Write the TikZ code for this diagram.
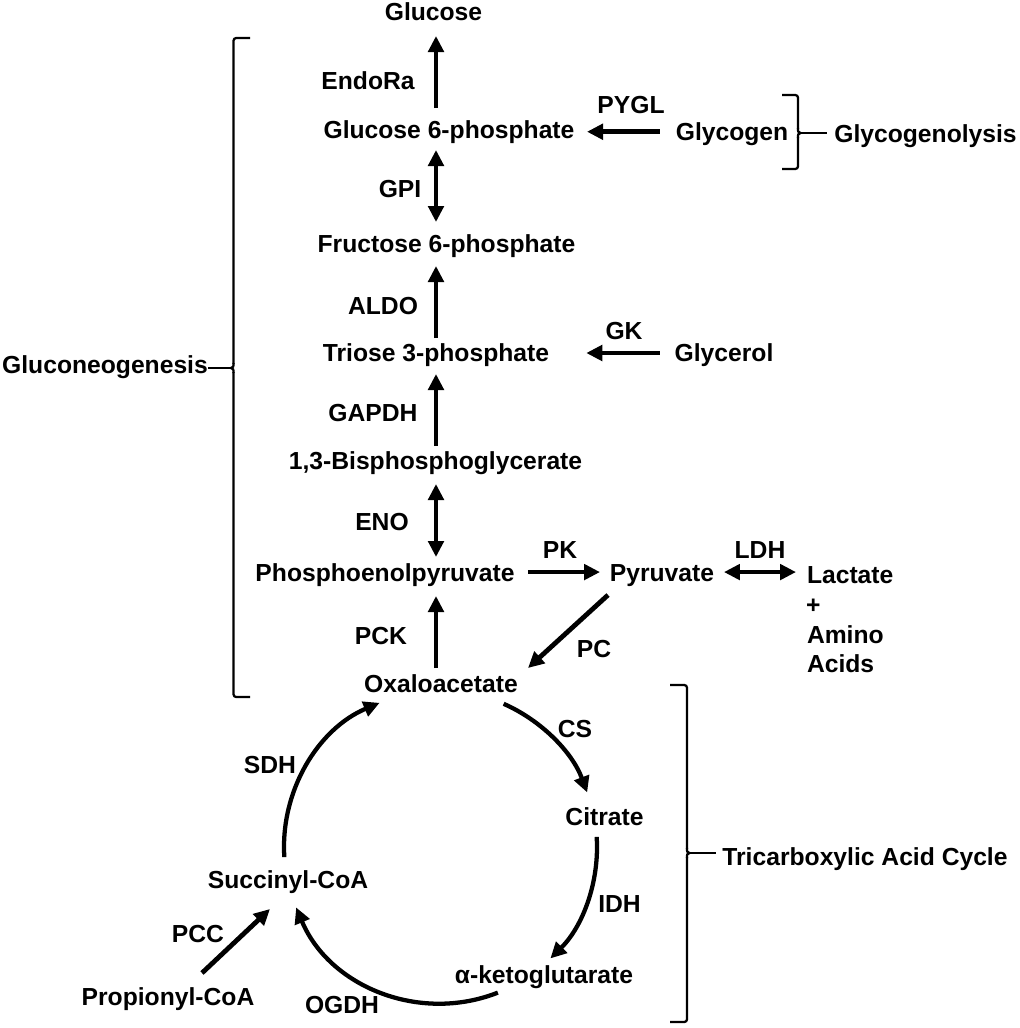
\documentclass[tikz,border=0pt]{standalone}
\usepackage{fontspec}
\setmainfont{Liberation Sans}
\usetikzlibrary{arrows.meta,calc}
\begin{document}
\begin{tikzpicture}[x=0.75pt,y=-0.75pt,
  lbl/.style={font=\fontsize{18.5}{22}\selectfont\bfseries, inner sep=0pt, outer sep=0pt,
    text height=13.3pt, text depth=3.9pt, anchor=base},
  lblw/.style={lbl, anchor=base west},
  arr/.style={line width=3.6pt, -{Triangle[length=12pt,width=11.5pt]}},
  darr/.style={line width=3.6pt, {Triangle[length=12pt,width=11.5pt]}-{Triangle[length=12pt,width=11.5pt]}},
  carr/.style={line width=3.2pt, -{Triangle[length=12pt,width=11.5pt]}},
  brace/.style={line width=1.7pt},
  tick/.style={line width=1.7pt}]
\useasboundingbox (0,0) rectangle (1020,1028);
\fill[white] (0,0) rectangle (1020,1028);

% metabolites
\node[lbl] (glucose) at (433.5,20) {Glucose};
\node[lbl] (g6p) at (449,138) {Glucose 6-phosphate};
\node[lbl] (glycogen) at (732,140) {Glycogen};
\node[lbl] (f6p) at (446.5,252) {Fructose 6-phosphate};
\node[lbl] (triose) at (436,361) {Triose 3-phosphate};
\node[lbl] (glycerol) at (724,361) {Glycerol};
\node[lbl] (bpg) at (435.5,469) {1,3-Bisphosphoglycerate};
\node[lbl] (pep) at (385,581) {Phosphoenolpyruvate};
\node[lbl] (pyruvate) at (662,581) {Pyruvate};
\node[lblw] (lactate) at (807,583) {Lactate};
\node[lblw] (plus) at (806,613) {+};
\node[lblw] (amino) at (807,643) {Amino};
\node[lblw] (acids) at (807,672) {Acids};
\node[lbl] (oaa) at (441,692) {Oxaloacetate};
\node[lbl] (citrate) at (604.5,825) {Citrate};
\node[lbl] (succinyl) at (288,888) {Succinyl-CoA};
\node[lbl] (akg) at (544,983) {α-ketoglutarate};
\node[lbl] (propionyl) at (168,1005) {Propionyl-CoA};

% enzymes
\node[lbl] (endora) at (368,89) {EndoRa};
\node[lbl] (pygl) at (631,113) {PYGL};
\node[lbl] (gpi) at (400,197) {GPI};
\node[lbl] (aldo) at (383,314) {ALDO};
\node[lbl] (gk) at (624,339) {GK};
\node[lbl] (gapdh) at (373,421) {GAPDH};
\node[lbl] (eno) at (382,530) {ENO};
\node[lbl] (pk) at (560,558) {PK};
\node[lbl] (ldh) at (760,558) {LDH};
\node[lbl] (pck) at (381,644) {PCK};
\node[lbl] (pc) at (594,657) {PC};
\node[lbl] (cs) at (575,737) {CS};
\node[lbl] (sdh) at (270,773) {SDH};
\node[lbl] (idh) at (619.5,912) {IDH};
\node[lbl] (pcc) at (198,942) {PCC};
\node[lbl] (ogdh) at (342,1013) {OGDH};

% process labels
\node[lbl] (gluconeo) at (105,373) {Gluconeogenesis};
\node[lbl] (glycogenolysis) at (925.5,142) {Glycogenolysis};
\node[lbl] (tcalbl) at (865,865) {Tricarboxylic Acid Cycle};

% main spine
\coordinate (spine) at (436,0);
\draw[arr, shorten <=9.2pt, shorten >=8.1pt] (g6p.north -| spine) -- (glucose.south -| spine);
\draw[darr, shorten <=5.1pt, shorten >=9.2pt] (g6p.south -| spine) -- (f6p.north -| spine);
\draw[arr, shorten <=3.95pt, shorten >=6.6pt] (triose.north -| spine) -- (f6p.south -| spine);
\draw[arr, shorten <=3.95pt, shorten >=5.85pt] (bpg.north -| spine) -- (triose.south -| spine);
\draw[darr, shorten <=7.35pt, shorten >=4.7pt] (bpg.south -| spine) -- (pep.north -| spine);
\draw[arr, shorten <=4.7pt, shorten >=7.35pt] (oaa.north -| spine) -- (pep.south -| spine);

% side arrows
\draw[arr, shorten <=11.9pt, shorten >=9.45pt] ([yshift=1.5pt]glycogen.west) -- (g6p.east);
\draw[arr, shorten <=11pt, shorten >=27.9pt] ([yshift=1.3pt]glycerol.west) -- ([yshift=1.3pt]triose.east);
\draw[arr, shorten <=10.1pt, shorten >=7.4pt] ([yshift=2pt]pep.east) -- ([yshift=2pt]pyruvate.west);
\draw[darr, shorten <=7.4pt, shorten >=8.25pt] ([yshift=2pt]pyruvate.east) -- ([yshift=3.5pt]lactate.west);
\draw[arr] ([xshift=-40.5pt,yshift=-6.6pt]pyruvate.south) -- ([xshift=65.25pt,yshift=4.7pt]oaa.north);
\draw[arr] ([xshift=25.5pt,yshift=10.7pt]propionyl.north) -- ([xshift=-13.5pt,yshift=-11.85pt]succinyl.south);

% TCA cycle
\coordinate (tca) at (440.5,847);
\draw[carr] ($(tca)+(-66.2:156.5)$) arc[start angle=-66.2, end angle=-20.4, radius=156.5];
\draw[carr] ($(tca)+(-3.7:156.5)$) arc[start angle=-3.7, end angle=45.4, radius=156.5];
\draw[carr] ($(tca)+(68.5:156.5)$) arc[start angle=68.5, end angle=157.3, radius=156.5];
\draw[carr] ($(tca)+(176.3:156.5)$) arc[start angle=176.3, end angle=247.1, radius=156.5];

% brackets
\coordinate (gtip) at (231,368);
\draw[brace, rounded corners=2pt] (250,38) -- (233.5,38) -- (233.5,364);
\draw[brace, rounded corners=2pt] (233.5,372) -- (233.5,697) -- (250,697);
\draw[brace] (233.5,363) .. controls (233.5,367) .. (gtip) .. controls (233.5,369) .. (233.5,373);
\draw[tick] (gtip) -- (gluconeo.east |- gtip);

\coordinate (ytip) at (800.5,133);
\draw[brace, rounded corners=2pt] (782,95) -- (798,95) -- (798,129);
\draw[brace, rounded corners=2pt] (798,137) -- (798,169) -- (782,169);
\draw[brace] (798,128) .. controls (798,132) .. (ytip) .. controls (798,134) .. (798,138);
\draw[tick, shorten >=5.5pt] (ytip) -- (glycogenolysis.west |- ytip);

\coordinate (ttip) at (689.5,853);
\draw[brace, rounded corners=2pt] (670,685) -- (687,685) -- (687,849);
\draw[brace, rounded corners=2pt] (687,857) -- (687,1022) -- (670,1022);
\draw[brace] (687,848) .. controls (687,852) .. (ttip) .. controls (687,854) .. (687,858);
\draw[tick, shorten >=5pt] (ttip) -- (tcalbl.west |- ttip);
\end{tikzpicture}
\end{document}
